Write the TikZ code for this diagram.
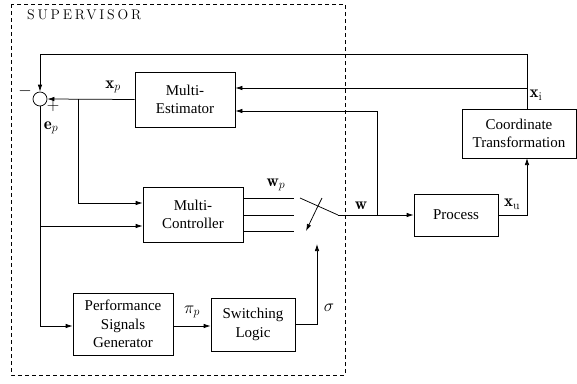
\documentclass[tikz,border=0pt]{standalone}
\usepackage{fontspec}
\usetikzlibrary{arrows.meta,calc}
\newfontfamily\tms{Liberation Serif}
\newfontfamily\supfont[LetterSpace=20]{Latin Modern Roman}
\begin{document}
\begin{tikzpicture}[x=1pt,y=-1pt,
  blk/.style={draw,line width=0.75pt,rectangle,inner sep=0pt,align=center,
    font=\tms\fontsize{15}{18.5}\selectfont},
  arr/.style={-{Latex[length=7pt,width=4.5pt]}},
  ln/.style={line width=0.75pt},
  lbl/.style={inner sep=0pt,font=\fontsize{17}{19}\selectfont}]
\useasboundingbox (0,0) rectangle (577,383);
\draw[ln,dash pattern=on 4pt off 3pt] (11,4) rectangle (345,375);
\node[anchor=west,inner sep=0pt] (sup) at (27,15) {\supfont\fontsize{14}{16}\selectfont SUPERVISOR};
% blocks
\node[blk,minimum width=100pt,minimum height=55pt] (est) at (185,99.5) {Multi-\\Estimator};
\node[blk,minimum width=100pt,minimum height=55pt] (ctrl) at (193,214.5) {Multi-\\Controller};
\node[blk,minimum width=84pt,minimum height=42pt] (proc) at (456,215) {Process};
\node[blk,minimum width=114pt,minimum height=49pt] (coord) at (519,133.5) {Coordinate\\Transformation};
\node[blk,minimum width=100pt,minimum height=62pt] (perf) at (123,324) {Performance\\Signals\\Generator};
\node[blk,minimum width=84pt,minimum height=53pt] (sw) at (253,324.5) {Switching\\Logic};
\node[draw,ln,circle,minimum size=14pt,inner sep=0pt] (sum) at (40,99) {};
% coordinates
\coordinate (ct) at (527,109);
\coordinate (cb) at (527,158);
\coordinate (tl) at (527,54);
\coordinate (xiJ) at (527,88);
\coordinate (wJ) at (377,215);
\coordinate (epJ) at (78,99);
\coordinate (lJ) at (40,226);
\coordinate (lB) at (40,326);
\coordinate (c1) at (294,198);
\coordinate (c2) at (294,215);
\coordinate (c3) at (294,231);
\coordinate (bl) at (300,198);
\coordinate (piv) at (338,215);
\coordinate (ca) at (322,198);
\coordinate (cz) at (306,231);
\coordinate (sigT) at (317,244);
% connectors
\draw[ln,arr] (ct) -- (tl) -| (sum.north);
\draw[ln,arr] (xiJ) -- (est.east |- xiJ);
\draw[ln,arr] (wJ) -- (377,111) -- (est.east |- 0,111);
\draw[ln,arr] (est.west) -- (sum.east);
\draw[ln,arr] (epJ) |- (ctrl.west |- 0,203);
\draw[ln,arr] (lJ) -- (ctrl.west |- lJ);
\draw[ln,arr] (sum.south) -- (lB) -- (perf.west |- lB);
\draw[ln,arr] (perf.east |- lB) -- (sw.west |- lB);
\draw[ln,arr] (sw.east) -| (sigT);
\draw[ln] (ctrl.east |- c1) -- (c1);
\draw[ln] (ctrl.east |- c2) -- (c2);
\draw[ln] (ctrl.east |- c3) -- (c3);
\draw[ln] (bl) -- (piv);
\draw[ln,arr] (piv) -- (proc.west);
\draw[ln,arr] (ca) .. controls (316,210) .. (cz);
\draw[ln,arr] (proc.east) -| (cb);
% labels
\node[lbl] (lxp) at (113,87) {$\mathbf{x}_p$};
\node[lbl] (lep) at (51,128) {$\mathbf{e}_p$};
\node[lbl] (lmin) at (25,91) {$-$};
\node[lbl] (lplus) at (53,106) {$+$};
\node[lbl] (lxi) at (536,95) {$\mathbf{x}_{\mathrm{i}}$};
\node[lbl] (lxu) at (512,204) {$\mathbf{x}_{\mathrm{u}}$};
\node[lbl] (lw) at (361,206) {$\mathbf{w}$};
\node[lbl] (lwp) at (276,185) {$\mathbf{w}_p$};
\node[lbl] (lpi) at (192,312) {$\pi_p$};
\node[lbl] (lsig) at (329,308) {$\sigma$};
\end{tikzpicture}
\end{document}
